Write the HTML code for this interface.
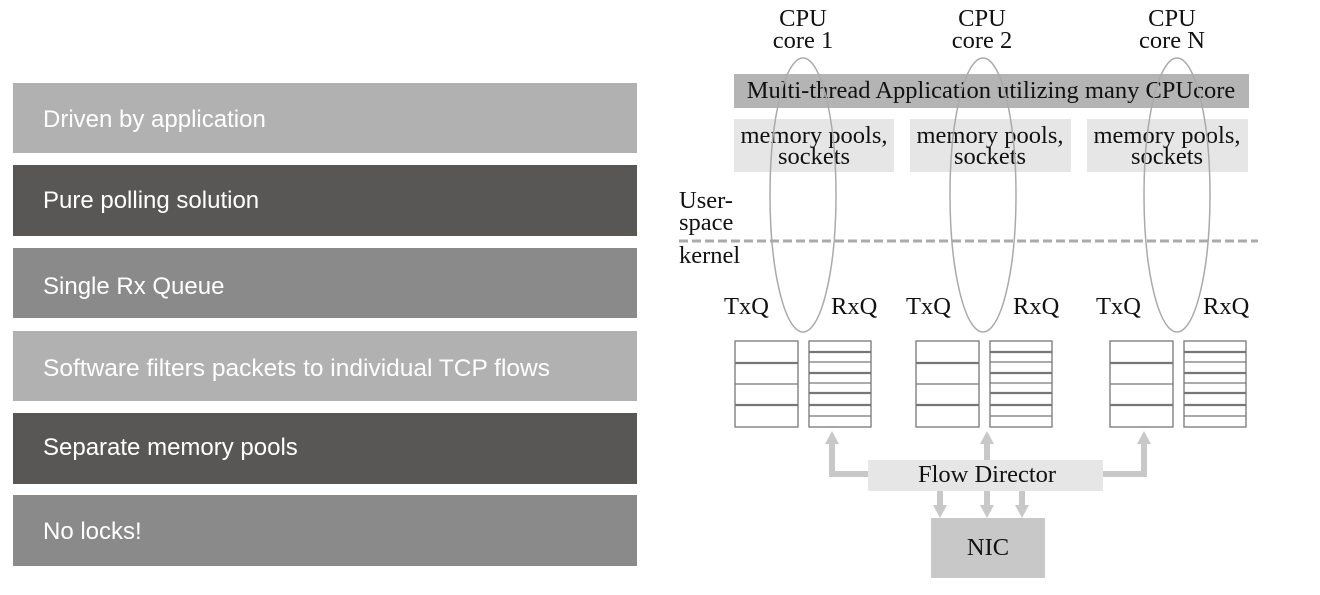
<!DOCTYPE html>
<html><head><meta charset="utf-8"><style>
html,body{margin:0;padding:0;background:#fff;width:1320px;height:595px;overflow:hidden}
svg{display:block}
.s{font-family:"Liberation Sans",sans-serif;font-size:24px;fill:#fff}
.r{font-family:"Liberation Serif",serif;font-size:24.5px;fill:#111}
</style></head><body>
<svg width="1320" height="595" viewBox="0 0 1320 595" xmlns="http://www.w3.org/2000/svg">
<rect x="13" y="83" width="624" height="70" fill="#b0b1b0"/>
<rect x="13" y="165" width="624" height="71" fill="#595756"/>
<rect x="13" y="248" width="624" height="70" fill="#8a8a8a"/>
<rect x="13" y="331" width="624" height="70" fill="#b0b1b0"/>
<rect x="13" y="413" width="624" height="71" fill="#595756"/>
<rect x="13" y="495" width="624" height="71" fill="#8a8a8a"/>
<text class="s" x="43" y="127">Driven by application</text>
<text class="s" x="43" y="208">Pure polling solution</text>
<text class="s" x="43" y="294">Single Rx Queue</text>
<text class="s" x="43" y="376" textLength="507" lengthAdjust="spacingAndGlyphs">Software filters packets to individual TCP flows</text>
<text class="s" x="43" y="455">Separate memory pools</text>
<text class="s" x="43" y="539">No locks!</text>

<g class="r" text-anchor="middle">
<text x="803" y="26">CPU</text>
<text x="803" y="48">core 1</text>
<text x="982" y="26">CPU</text>
<text x="982" y="48">core 2</text>
<text x="1172" y="26">CPU</text>
<text x="1172" y="48">core N</text>
</g>

<rect x="734" y="74" width="515" height="34" fill="#b4b4b4"/>
<text class="r" x="991" y="98" text-anchor="middle">Multi-thread Application utilizing many CPUcore</text>
<g fill="#e6e6e6">
<rect x="734" y="119" width="160" height="53"/>
<rect x="910" y="119" width="161" height="53"/>
<rect x="1087" y="119" width="161" height="53"/>
</g>
<g class="r" text-anchor="middle">
<text x="814" y="143">memory pools,</text><text x="814" y="164">sockets</text>
<text x="990" y="143">memory pools,</text><text x="990" y="164">sockets</text>
<text x="1167" y="143">memory pools,</text><text x="1167" y="164">sockets</text>
</g>
<g fill="none" stroke="#aaa" stroke-width="1.5">
<ellipse cx="803" cy="195" rx="33" ry="137"/>
<ellipse cx="983" cy="195" rx="33" ry="137"/>
<ellipse cx="1177" cy="195" rx="33" ry="137"/>
</g>
<text class="r" x="679" y="208">User-</text>
<text class="r" x="679" y="230">space</text>
<line x1="679" y1="241" x2="1258" y2="241" stroke="#aaa" stroke-width="3" stroke-dasharray="9,4"/>
<text class="r" x="679" y="263">kernel</text>
<g class="r">
<text x="724" y="314">TxQ</text><text x="831" y="314">RxQ</text>
<text x="906" y="314">TxQ</text><text x="1013" y="314">RxQ</text>
<text x="1096" y="314">TxQ</text><text x="1203" y="314">RxQ</text>
</g>
<g stroke="#777" fill="#fff">
<g id="q">
<rect x="735" y="341" width="63" height="86" stroke-width="1.3"/>
<line x1="735" y1="363" x2="798" y2="363" stroke-width="2.2"/>
<line x1="735" y1="384" x2="798" y2="384" stroke-width="1.2"/>
<line x1="735" y1="405" x2="798" y2="405" stroke-width="2.2"/>
<rect x="809" y="341" width="62" height="86" stroke-width="1.3"/>
<line x1="809" y1="352" x2="871" y2="352" stroke-width="2.2"/>
<line x1="809" y1="362" x2="871" y2="362" stroke-width="1.2"/>
<line x1="809" y1="373" x2="871" y2="373" stroke-width="2.2"/>
<line x1="809" y1="383" x2="871" y2="383" stroke-width="1.2"/>
<line x1="809" y1="393" x2="871" y2="393" stroke-width="2.2"/>
<line x1="809" y1="405" x2="871" y2="405" stroke-width="2.2"/>
<line x1="809" y1="416" x2="871" y2="416" stroke-width="1.2"/>
</g>
<use href="#q" transform="translate(181,0)"/>
<use href="#q" transform="translate(375,0)"/>
</g>
<g fill="none" stroke="#c8c8c8" stroke-width="6">
<polyline points="868,474 832,474 832,442"/>
<line x1="987" y1="460" x2="987" y2="442"/>
<polyline points="1103,474 1144,474 1144,442"/>
<line x1="940" y1="491" x2="940" y2="507"/>
<line x1="987" y1="491" x2="987" y2="507"/>
<line x1="1022" y1="491" x2="1022" y2="507"/>
</g>
<g fill="#c8c8c8">
<polygon points="825,444 839,444 832,431"/>
<polygon points="980,444 994,444 987,431"/>
<polygon points="1137,444 1151,444 1144,431"/>
<polygon points="933,505 947,505 940,518"/>
<polygon points="980,505 994,505 987,518"/>
<polygon points="1015,505 1029,505 1022,518"/>
</g>
<rect x="868" y="460" width="235" height="31" fill="#e6e6e6"/>
<text class="r" x="987" y="482" text-anchor="middle">Flow Director</text>
<rect x="931" y="518" width="114" height="60" fill="#c8c8c8"/>
<text class="r" x="988" y="555" text-anchor="middle">NIC</text>
</svg>
</body></html>
